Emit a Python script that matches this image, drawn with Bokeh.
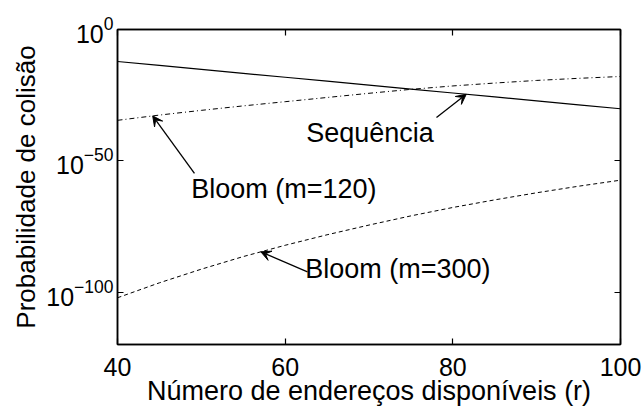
import numpy as np
from bokeh.plotting import figure
from bokeh.models import (FixedTicker, LinearAxis, LogAxis, Label, Arrow, VeeHead,
                          ColumnDataSource, Range1d, CustomJSTickFormatter, Title)
from bokeh.embed import file_html
from bokeh.resources import INLINE

# ---------------- data ----------------
r = [40, 45, 50, 55, 60, 65, 70, 75, 80, 85, 90, 95, 100]
seq_exp = [-12.2, -13.7, -15.2, -16.7, -18.2, -19.7, -21.2, -22.7, -24.2, -25.7, -27.2, -28.7, -30.2]
bloom120_exp = [-34.6, -32.6, -30.8, -29.1, -27.5, -25.9, -24.3, -22.8, -21.5, -20.4, -19.4, -18.6, -17.9]
bloom300_exp = [-102.2, -96.5, -91.3, -86.5, -82.2, -78.2, -74.5, -71.0, -67.8, -64.9, -62.2, -59.7, -57.4]

x_ticks = [40, 60, 80, 100]
y_tick_exp = [0, -50, -100]
y_min_exp, y_max_exp = -120, 0

x_label = "Número de endereços disponíveis (r)"
y_label = "Probabilidade de colisão"

# annotation: text, text anchor (r, exp), arrow tail (r, exp), arrow tip r, series
annotations = [
    ("Sequência", 62.5, -39.35, 78.05, -33.5, 81.6, seq_exp),
    ("Bloom (m=120)", 48.8, -60.9, 49.18, -54.8, 44.2, bloom120_exp),
    ("Bloom (m=300)", 62.4, -91.1, 62.66, -92.3, 57.1, bloom300_exp),
]

FONT = "Liberation Sans"

def p10(e):
    return 10.0 ** e

p = figure(width=643, height=408, output_backend="svg", toolbar_location=None,
           y_axis_type="log",
           x_range=Range1d(40, 100), y_range=Range1d(p10(y_min_exp), p10(y_max_exp)),
           min_border_left=117, min_border_right=23, min_border_top=29, min_border_bottom=57)
p.background_fill_color = "white"
p.border_fill_color = "white"
p.outline_line_color = "black"
p.outline_line_width = 1.5
p.xgrid.visible = False
p.ygrid.visible = False

blank = CustomJSTickFormatter(code="return ''")

def style_axis(ax, show_labels, standoff=6):
    ax.major_tick_in = 6
    ax.major_tick_out = 0
    ax.minor_tick_line_color = None
    ax.axis_line_color = "black"
    ax.axis_line_width = 1.5
    ax.major_tick_line_color = "black"
    ax.major_tick_line_width = 1.2
    if show_labels:
        ax.major_label_text_font = FONT
        ax.major_label_text_font_size = "25px"
        ax.major_label_text_color = "black"
        ax.major_label_standoff = standoff
    else:
        ax.formatter = blank
        ax.major_label_text_font_size = "8px"
        ax.major_label_standoff = 0

y_ticks = [p10(e) for e in y_tick_exp]

bottom = p.below[0]
left = p.left[0]
bottom.ticker = FixedTicker(ticks=x_ticks)
style_axis(bottom, True, standoff=13)
left.ticker = FixedTicker(ticks=y_ticks)
style_axis(left, True, standoff=4)

# axis title (x)
bottom.axis_label = x_label
bottom.axis_label_text_font = FONT
bottom.axis_label_text_font_size = "27px"
bottom.axis_label_text_font_style = "normal"
bottom.axis_label_text_color = "black"
bottom.axis_label_standoff = -3

top = LinearAxis(ticker=FixedTicker(ticks=x_ticks))
style_axis(top, False)
p.add_layout(top, "above")
right = LogAxis(ticker=FixedTicker(ticks=y_ticks))
style_axis(right, False)
p.add_layout(right, "right")

# axis title (y)
p.add_layout(Title(text=y_label, align="center", offset=16, text_font=FONT,
                   text_font_size="26px", text_font_style="normal", text_color="black",
                   standoff=5), "left")

# ---------------- series ----------------
src = ColumnDataSource(dict(
    r=r,
    seq=[p10(e) for e in seq_exp],
    b120=[p10(e) for e in bloom120_exp],
    b300=[p10(e) for e in bloom300_exp],
))
p.line("r", "seq", source=src, line_color="black", line_width=1.2)
p.line("r", "b120", source=src, line_color="black", line_width=1.0, line_dash="5 3 1 3")
p.line("r", "b300", source=src, line_color="black", line_width=1.0, line_dash="4 3")

# ---------------- annotations ----------------
for text, tx, te, ax_, ae, tip_r, series in annotations:
    tip_e = float(np.interp(tip_r, r, series))
    p.add_layout(Arrow(end=VeeHead(size=10, fill_color="black", line_color="black", line_width=1),
                       x_start=ax_, y_start=p10(ae), x_end=tip_r, y_end=p10(tip_e),
                       line_color="black", line_width=1.3))
    p.add_layout(Label(x=tx, y=p10(te), text=text, text_font=FONT, text_font_size="27px",
                       text_color="black", text_align="left", text_baseline="alphabetic"))

open("out.html", "w").write(file_html(p, INLINE))
